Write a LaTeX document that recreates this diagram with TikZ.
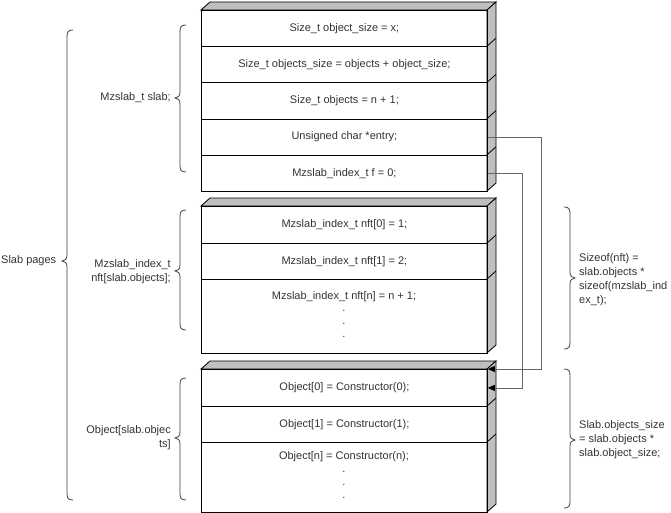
\documentclass[tikz,border=0pt]{standalone}
\usepackage{fontspec}
\setmainfont{Liberation Sans}
\usetikzlibrary{arrows.meta}
\tikzset{
  rowbox/.style={draw=black, line width=0.8pt, minimum width=286pt, inner sep=0pt, anchor=north west, text=black!80, font=\fontsize{11}{14}\selectfont},
  txt/.style={text=black!80, font=\fontsize{11}{14}\selectfont, inner sep=0pt},
  face/.style={draw=black, line width=0.8pt, fill=black!25},
  brc/.style={draw=black!75, line width=0.8pt},
  conn/.style={draw=black!60, line width=0.8pt, -{Triangle[length=7pt,width=6pt,color=black]}},
}
\newcommand\mybraceL[4]{\draw[brc] (#1+6,#2) .. controls (#1+1,#2) and (#1,#2+2) .. (#1,#2+7) -- (#1,#4-6) .. controls (#1,#4-2) and (#1-2,#4) .. (#1-5,#4) .. controls (#1-2,#4) and (#1,#4+2) .. (#1,#4+6) -- (#1,#3-7) .. controls (#1,#3-2) and (#1+1,#3) .. (#1+6,#3);}
\newcommand\mybraceR[4]{\draw[brc] (#1-6,#2) .. controls (#1-1,#2) and (#1,#2+2) .. (#1,#2+7) -- (#1,#4-6) .. controls (#1,#4-2) and (#1+2,#4) .. (#1+5,#4) .. controls (#1+2,#4) and (#1,#4+2) .. (#1,#4+6) -- (#1,#3-7) .. controls (#1,#3-2) and (#1-1,#3) .. (#1-6,#3);}
\newcommand\slabfaces[3]{%
  \draw[face] (201,#1) -- (210,#1-8) -- (496,#1-8) -- (487,#1) -- cycle;
  \draw[face] (487,#1) -- (496,#1-8) -- (496,#2-8) -- (487,#2) -- cycle;
  \foreach \d in {#3} {\draw[black, line width=0.8pt] (487,\d) -- (496,\d-8);}
}
\begin{document}
\begin{tikzpicture}[x=1pt,y=-1pt]
\useasboundingbox[fill=white] (0,0) rectangle (671,513);

% box 1
\slabfaces{10}{191}{46.2,82.4,118.6,154.8}
\node[rowbox, minimum height=36.2pt] (osz) at (201,10) {Size\_t object\_size = x;};
\node[rowbox, minimum height=36.2pt] (ossz) at (201,46.2) {Size\_t objects\_size = objects + object\_size;};
\node[rowbox, minimum height=36.2pt] (objs) at (201,82.4) {Size\_t objects = n + 1;};
\node[rowbox, minimum height=36.2pt] (entry) at (201,118.6) {Unsigned char *entry;};
\node[rowbox, minimum height=36.2pt] (ff) at (201,154.8) {Mzslab\_index\_t f = 0;};

% box 2
\slabfaces{206}{353}{243,279}
\node[rowbox, minimum height=37pt] (n0) at (201,206) {Mzslab\_index\_t nft[0] = 1;};
\node[rowbox, minimum height=36pt] (n1) at (201,243) {Mzslab\_index\_t nft[1] = 2;};
\node[rowbox, minimum height=74pt] (nn) at (201,279) {};
\node[txt] (nntxt) at (344,297) {Mzslab\_index\_t nft[n] = n + 1;};
\node[txt] (nd1) at (344,311) {.};
\node[txt] (nd2) at (344,324) {.};
\node[txt] (nd3) at (344,337) {.};

% box 3
\slabfaces{369}{512}{406,442}
\node[rowbox, minimum height=37pt] (o0) at (201,369) {Object[0] = Constructor(0);};
\node[rowbox, minimum height=36pt] (o1) at (201,406) {Object[1] = Constructor(1);};
\node[rowbox, minimum height=70pt] (on) at (201,442) {};
\node[txt] (ontxt) at (344,457) {Object[n] = Constructor(n);};
\node[txt] (od1) at (344,472) {.};
\node[txt] (od2) at (344,485) {.};
\node[txt] (od3) at (344,498) {.};

% connectors
\coordinate (c1) at (541,0);
\coordinate (c2) at (522.5,0);
\draw[conn] (entry.east) -- (entry.east -| c1) -- (c1 |- o0.north east) -- (o0.north east);
\draw[conn] (ff.east) -- (ff.east -| c2) -- (c2 |- o0.east) -- (o0.east);

% left braces and labels
\mybraceL{67}{30}{500}{261}
\node[txt, anchor=west] (slabpages) at (1,261) {Slab pages};
\mybraceL{180}{25}{172}{98}
\node[txt, anchor=east] (lslab) at (171,98) {Mzslab\_t slab;};
\mybraceL{180}{210}{330}{271}
\node[txt, anchor=east, align=right] (lnft) at (171,272) {Mzslab\_index\_t\\nft[slab.objects];};
\mybraceL{180}{378}{500}{438}
\node[txt, anchor=east, align=right] (lobj) at (171,438) {Object[slab.objec\\ts]};

% right braces and labels
\mybraceR{570}{207}{349}{278}
\node[txt, anchor=west, align=left] (rnft) at (579,280) {Sizeof(nft) =\\slab.objects *\\sizeof(mzslab\_ind\\ex\_t);};
\mybraceR{570}{369}{508}{440}
\node[txt, anchor=west, align=left] (robj) at (579,440) {Slab.objects\_size\\= slab.objects *\\slab.object\_size;};
\end{tikzpicture}
\end{document}
